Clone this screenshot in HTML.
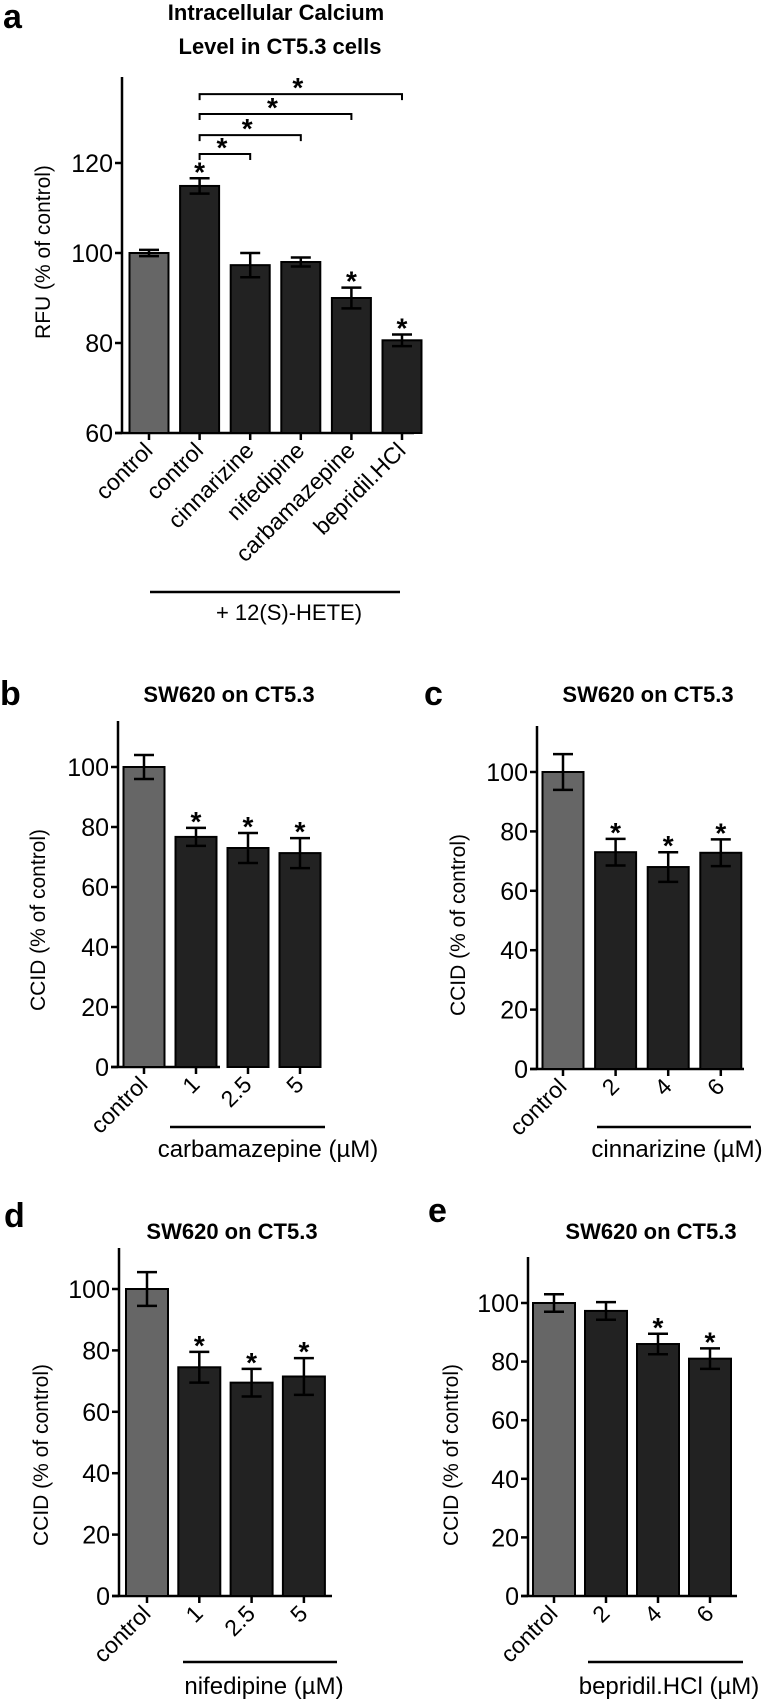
<!DOCTYPE html>
<html><head><meta charset="utf-8"><style>
html,body{margin:0;padding:0;background:#fff}
svg{display:block;font-family:"Liberation Sans","DejaVu Sans",sans-serif}
</style></head><body>
<svg id="fig" width="774" height="1699" viewBox="0 0 774 1699" xmlns="http://www.w3.org/2000/svg">
<g>
<text x="3" y="28" font-size="34" font-weight="bold">a</text>
<text x="276" y="20" font-size="22" font-weight="bold" text-anchor="middle">Intracellular Calcium</text>
<text x="280" y="54" font-size="22" font-weight="bold" text-anchor="middle">Level in CT5.3 cells</text>
<line x1="150" y1="592" x2="400" y2="592" stroke="#000" stroke-width="2.5"/>
<text x="289" y="620" font-size="22" text-anchor="middle">+ 12(S)-HETE)</text>
</g>
<g>
<text x="0" y="705" font-size="34" font-weight="bold">b</text>
<text x="229" y="702" font-size="22" font-weight="bold" text-anchor="middle">SW620 on CT5.3</text>
<line x1="170" y1="1127" x2="325" y2="1127" stroke="#000" stroke-width="2.5"/>
<text x="268" y="1157" font-size="24" text-anchor="middle">carbamazepine (µM)</text>
</g>
<g>
<text x="424" y="705" font-size="34" font-weight="bold">c</text>
<text x="648" y="702" font-size="22" font-weight="bold" text-anchor="middle">SW620 on CT5.3</text>
<line x1="597" y1="1127" x2="751" y2="1127" stroke="#000" stroke-width="2.5"/>
<text x="677" y="1157" font-size="24" text-anchor="middle">cinnarizine (µM)</text>
</g>
<g>
<text x="4" y="1227" font-size="34" font-weight="bold">d</text>
<text x="232" y="1239" font-size="22" font-weight="bold" text-anchor="middle">SW620 on CT5.3</text>
<line x1="183" y1="1662" x2="337" y2="1662" stroke="#000" stroke-width="2.5"/>
<text x="264" y="1694" font-size="24" text-anchor="middle">nifedipine (µM)</text>
</g>
<g>
<text x="428" y="1222" font-size="34" font-weight="bold">e</text>
<text x="651" y="1239" font-size="22" font-weight="bold" text-anchor="middle">SW620 on CT5.3</text>
<line x1="588" y1="1662" x2="743" y2="1662" stroke="#000" stroke-width="2.5"/>
<text x="669" y="1694" font-size="24" text-anchor="middle">bepridil.HCl (µM)</text>
</g>
</svg>
<script>
// Panel a data
const aCategories = ["control","control","cinnarizine","nifedipine","carbamazepine","bepridil.HCl"];
const aValues = [100, 114.9, 97.3, 98, 90, 80.6];
const aErrors = [0.7, 1.7, 2.7, 1.0, 2.3, 1.3];
const aStars = [false, true, false, false, true, true];
const aTicks = [60, 80, 100, 120];
const aBracketTo = [2, 3, 4, 5];
const aBracketLevel = [122, 126.2, 130.9, 135.3];
// Panel b data
const bCategories = ["control","1","2.5","5"];
const bValues = [100, 76.7, 73, 71.3];
const bErrors = [4, 3, 5, 5];
const bStars = [false, true, true, true];
// Panel c data
const cCategories = ["control","2","4","6"];
const cValues = [100, 73, 68, 72.8];
const cErrors = [6, 4.5, 5, 4.5];
const cStars = [false, true, true, true];
// Panel d data
const dCategories = ["control","1","2.5","5"];
const dValues = [100, 74.5, 69.5, 71.5];
const dErrors = [5.5, 5, 4.5, 6];
const dStars = [false, true, true, true];
// Panel e data
const eCategories = ["control","2","4","6"];
const eValues = [100, 97.3, 86, 81];
const eErrors = [3, 3, 3.5, 3.5];
const eStars = [false, false, true, true];
const ccidTicks = [0, 20, 40, 60, 80, 100];

const NS = "http://www.w3.org/2000/svg";
const svg = document.getElementById("fig");
function mk(tag, attrs, parent) {
  const e = document.createElementNS(NS, tag);
  for (const k in attrs) e.setAttribute(k, attrs[k]);
  (parent || svg).appendChild(e);
  return e;
}

function panel(p, cats, vals, errs, stars, ticks, L) {
  const g = mk("g", {});
  
  
  const y = v => L.y0 - (v - L.vmin) * L.k;
  const x = i => L.x0 + i * L.step;
  const ya = mk("line", {x1: L.ax, y1: L.top, x2: L.ax, y2: L.y0 + 1, stroke: "#000", "stroke-width": 2.5}, g);
  
  
  const xa = mk("line", {x1: L.ax - 7, y1: L.y0, x2: L.xend, y2: L.y0, stroke: "#000", "stroke-width": 2.5}, g);
  
  
  ticks.forEach(t => {
    const tl = mk("line", {x1: L.ax - 7, y1: y(t), x2: L.ax, y2: y(t), stroke: "#000", "stroke-width": 2.5}, g);
    
    
    const tx = mk("text", {x: L.ax - 9, y: y(t) + L.tf * 0.36, "font-size": L.tf, "text-anchor": "end"}, g);
    
    
    tx.textContent = t;
  });
  const yl = mk("text", {x: L.ylx, y: L.yly, "font-size": L.yf, "text-anchor": "middle", transform: `rotate(-90 ${L.ylx} ${L.yly})`}, g);
  
  
  yl.textContent = L.ylabel;
  cats.forEach((c, i) => {
    const cx = x(i);
    const top = y(vals[i]);
    const r = mk("rect", {x: cx - L.bw / 2, y: top, width: L.bw, height: L.y0 - top, fill: i === 0 ? "#666" : "#222", stroke: "#000", "stroke-width": 2}, g);
    
    
    const e1 = y(vals[i] + errs[i]), e2 = y(vals[i] - errs[i]);
    const eb = mk("path", {d: `M${cx},${e1}V${e2}M${cx - L.cap},${e1}H${cx + L.cap}M${cx - L.cap},${e2}H${cx + L.cap}`, stroke: "#000", "stroke-width": 2.5, fill: "none"}, g);
    
    
    if (stars[i]) {
      const s = mk("text", {x: cx, y: e1 + 3, "font-size": 28, "font-weight": "bold", "text-anchor": "middle"}, g);
      
      
      s.textContent = "*";
    }
    const tk = mk("line", {x1: cx, y1: L.y0, x2: cx, y2: L.y0 + 7, stroke: "#000", "stroke-width": 2.5}, g);
    
    
    const lx = cx + 5, ly = L.y0 + 19;
    const lb = mk("text", {x: lx, y: ly, "font-size": L.xf, "text-anchor": "end", transform: `rotate(-45 ${lx} ${ly})`}, g);
    
    
    lb.textContent = c;
  });
  return {x, y, g};
}

const A = panel("a", aCategories, aValues, aErrors, aStars, aTicks,
  {x0: 149, step: 50.6, bw: 39, ax: 122, top: 77, y0: 433, vmin: 60, k: 4.5, xend: 414, tf: 25, yf: 21, xf: 23, cap: 10, ylx: 50, yly: 252, ylabel: "RFU (% of control)"});
aBracketTo.forEach((j, n) => {
  const x1 = A.x(1), x2 = A.x(j), yy = A.y(aBracketLevel[n]);
  const br = mk("path", {d: `M${x1},${yy + 6}V${yy}H${x2}V${yy + 6}`, stroke: "#000", "stroke-width": 2, fill: "none"}, A.g);
  
  
  const s = mk("text", {x: (x1 + x2) / 2 - 3, y: yy + 3, "font-size": 28, "font-weight": "bold", "text-anchor": "middle"}, A.g);
  
  
  s.textContent = "*";
});

panel("b", bCategories, bValues, bErrors, bStars, ccidTicks,
  {x0: 144, step: 52, bw: 41, ax: 118, top: 721, y0: 1067, vmin: 0, k: 3.0, xend: 220, tf: 25, yf: 21, xf: 23, cap: 10, ylx: 45, yly: 920, ylabel: "CCID (% of control)"});
panel("c", cCategories, cValues, cErrors, cStars, ccidTicks,
  {x0: 563, step: 52.6, bw: 41, ax: 537, top: 726, y0: 1069, vmin: 0, k: 2.97, xend: 744, tf: 25, yf: 21, xf: 23, cap: 10, ylx: 465, yly: 925, ylabel: "CCID (% of control)"});
panel("d", dCategories, dValues, dErrors, dStars, ccidTicks,
  {x0: 147, step: 52.3, bw: 42, ax: 119, top: 1248, y0: 1596, vmin: 0, k: 3.07, xend: 332, tf: 25, yf: 21, xf: 23, cap: 10, ylx: 48, yly: 1455, ylabel: "CCID (% of control)"});
panel("e", eCategories, eValues, eErrors, eStars, ccidTicks,
  {x0: 554, step: 52, bw: 42, ax: 528, top: 1257, y0: 1596, vmin: 0, k: 2.93, xend: 737, tf: 25, yf: 21, xf: 23, cap: 10, ylx: 458, yly: 1455, ylabel: "CCID (% of control)"});
</script>
</body></html>
